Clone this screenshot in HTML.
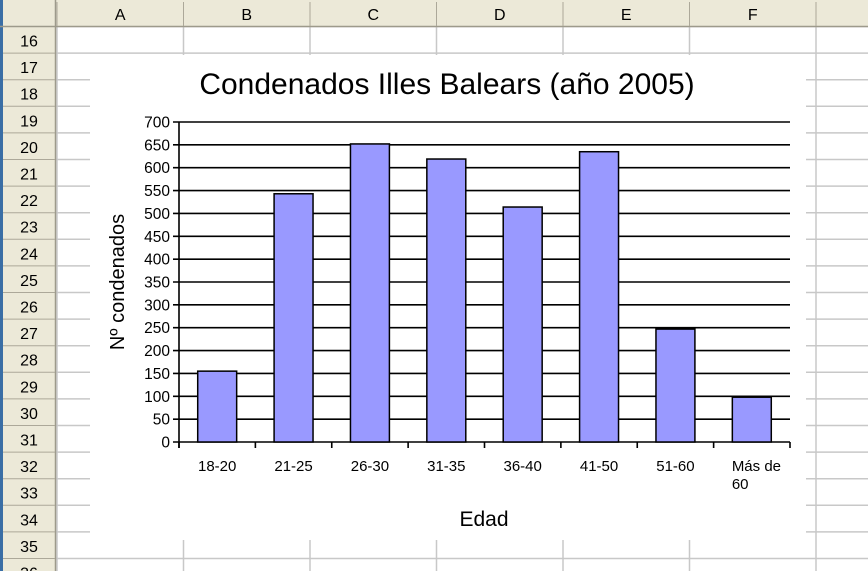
<!DOCTYPE html>
<html><head><meta charset="utf-8"><style>
body{margin:0;width:868px;height:571px;overflow:hidden;background:#fff;font-family:"Liberation Sans",sans-serif}
svg{display:block}
</style></head><body>
<svg width="868" height="571" xmlns="http://www.w3.org/2000/svg">
<g id="grid"></g>
<g id="chart"></g>
</svg>
<script>
const categories=["18-20","21-25","26-30","31-35","36-40","41-50","51-60","Más de|60"];
const values=[155,543,652,619,514,635,247,98];
const yTicks=[0,50,100,150,200,250,300,350,400,450,500,550,600,650,700];
const colLetters=["A","B","C","D","E","F"];
const rowNums=[16,17,18,19,20,21,22,23,24,25,26,27,28,29,30,31,32,33,34,35,36];
const NS="http://www.w3.org/2000/svg";
function mk(t,a,p,txt){const e=document.createElementNS(NS,t);for(const k in a)e.setAttribute(k,a[k]);if(txt!=null)e.textContent=txt;p.appendChild(e);return e;}
const g=document.getElementById('grid');
const rowH=26.6, row0=26.5, colW=126.5, col0=57;
for(let i=0;i<=rowNums.length;i++){const y=row0+i*rowH;mk('line',{x1:55,x2:868,y1:y,y2:y,stroke:'#c8c8c8','stroke-width':1.5},g);}
for(let i=0;i<=7;i++){const x=col0+i*colW;mk('line',{x1:x,x2:x,y1:27,y2:571,stroke:'#c8c8c8','stroke-width':1.5},g);}
const hb=mk('rect',{x:0,y:0,width:868,height:27,fill:'#ece9d8'},g);

mk('rect',{x:0,y:0,width:55,height:571,fill:'#ece9d8'},g);
mk('rect',{x:0,y:0,width:3,height:571,fill:'#3a6ea5'},g);
mk('line',{x1:0,x2:868,y1:26.5,y2:26.5,stroke:'#9d9a8b','stroke-width':1.5},g);
mk('line',{x1:55.5,x2:55.5,y1:0,y2:571,stroke:'#9d9a8b','stroke-width':1.5},g);
colLetters.forEach((c,i)=>{const x=col0+i*colW;
 mk('line',{x1:x,x2:x,y1:2,y2:26,stroke:'#aca899'},g);
 const t=mk('text',{x:x+colW/2,y:20,'text-anchor':'middle','font-size':16,fill:'#000'},g,c);
 });
mk('line',{x1:col0+6*colW,x2:col0+6*colW,y1:2,y2:26,stroke:'#aca899'},g);
rowNums.forEach((r,i)=>{const y=row0+i*rowH;
 mk('line',{x1:3,x2:55,y1:y+rowH,y2:y+rowH,stroke:'#aca899'},g);
 const t=mk('text',{x:29,y:y+20,'text-anchor':'middle','font-size':16,fill:'#000'},g,String(r));
 });
const c=document.getElementById('chart');
const bg=mk('rect',{x:90,y:55,width:716,height:485,fill:'#fff'},c);

const pl=179,pr=790,pt=122,pb=442,ymax=700;
const yS=v=>pb-(v/ymax)*(pb-pt);
const cw=(pr-pl)/categories.length;
const xS=i=>pl+cw*i;
yTicks.forEach(v=>{const y=yS(v);
 const l=mk('line',{x1:pl-6,x2:pr,y1:y,y2:y,stroke:'#000','stroke-width':1.6},c);
 
 const t=mk('text',{x:pl-9,y:y+5.5,'text-anchor':'end','font-size':15.5,fill:'#000'},c,String(v));
 });
values.forEach((v,i)=>{const bw=cw*0.51;const x=xS(i)+(cw-bw)/2;
 const r=mk('rect',{x:x,y:yS(v),width:bw,height:yS(0)-yS(v),fill:'#9999ff',stroke:'#000','stroke-width':1.5},c);
 
 });
const ax=mk('line',{x1:pl,x2:pl,y1:pt,y2:pb+6,stroke:'#000','stroke-width':1.6},c);

for(let i=0;i<=categories.length;i++){mk('line',{x1:xS(i),x2:xS(i),y1:pb,y2:pb+6,stroke:'#000','stroke-width':1.6},c);}
categories.forEach((cat,i)=>{const parts=cat.split('|');const cx=xS(i)+cw/2;
 const t=mk('text',{x:parts.length>1?cx-20:cx,y:471,'text-anchor':parts.length>1?'start':'middle','font-size':15,fill:'#000'},c);
 
 parts.forEach((p,j)=>{mk('tspan',{x:parts.length>1?cx-20:cx,dy:j?18:0},t,p);});});
const title=mk('text',{x:447,y:94,'text-anchor':'middle','font-size':30,fill:'#000'},c,'Condenados Illes Balears (año 2005)');

const yt=mk('text',{x:0,y:0,'text-anchor':'middle','font-size':20,fill:'#000',transform:'translate(124,282) rotate(-90)'},c,'Nº condenados');

const xt=mk('text',{x:484,y:526,'text-anchor':'middle','font-size':21,fill:'#000'},c,'Edad');

</script>
</body></html>
